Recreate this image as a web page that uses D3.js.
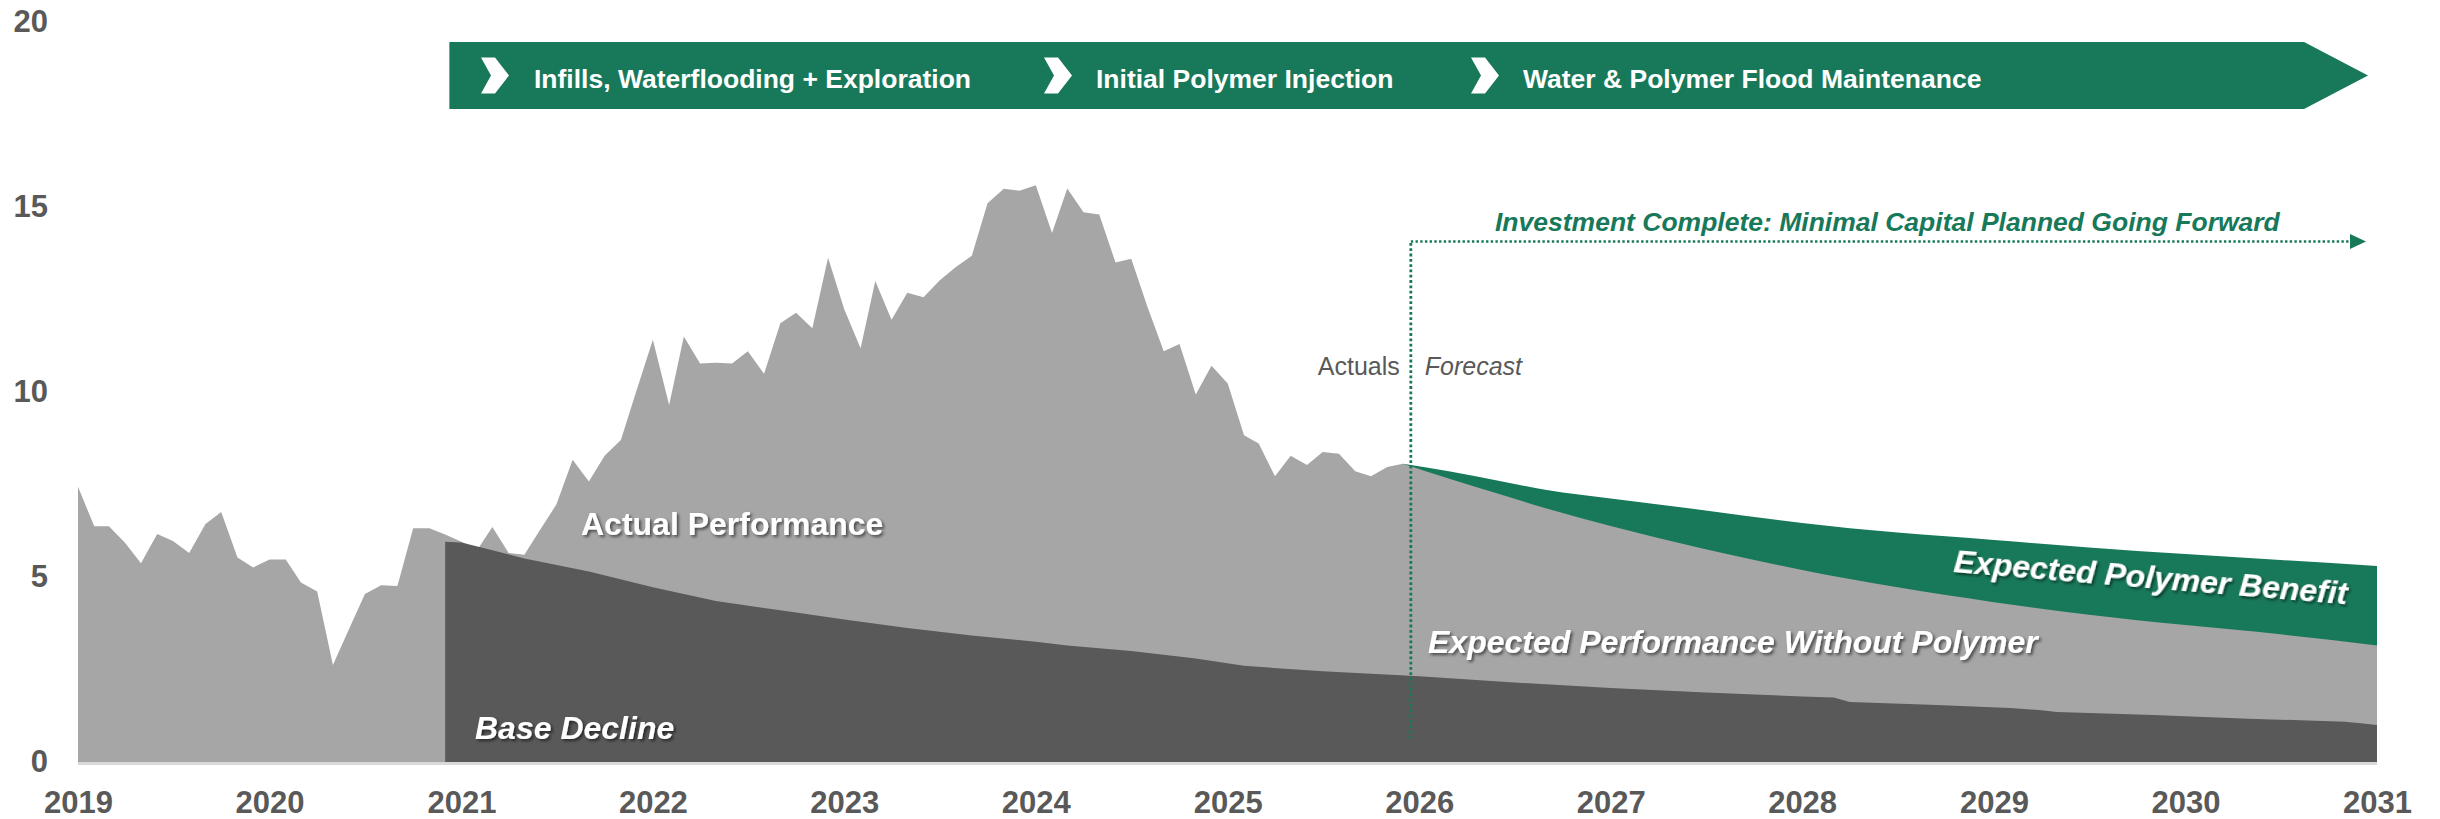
<!DOCTYPE html>
<html>
<head>
<meta charset="utf-8">
<script src="https://cdn.jsdelivr.net/npm/d3@7"></script>
<style>
  html, body { margin: 0; padding: 0; background: #fff; }
  svg { display: block; }
  text { font-family: "Liberation Sans", Arial, sans-serif; }
</style>
</head>
<body>
<svg id="chart" width="2440" height="819"></svg>
<script>
// ---------------- DATA ----------------
const actualStart = "2019-01";   // monthly, Jan 2019 .. Dec 2025
const actualValues = [
  7.44, 6.37, 6.37, 5.92, 5.37, 6.16, 5.97, 5.65, 6.43, 6.76, 5.53, 5.26,
  5.47, 5.47, 4.85, 4.61, 2.62, 3.60, 4.54, 4.78, 4.76, 6.32, 6.32, 6.15,
  5.95, 5.75, 6.35, 5.65, 5.60, 6.30, 6.96, 8.17, 7.58, 8.28, 8.70, 10.05,
  11.41, 9.65, 11.50, 10.77, 10.79, 10.77, 11.10, 10.49, 11.86, 12.14, 11.72, 13.63,
  12.23, 11.18, 13.00, 11.95, 12.68, 12.56, 13.01, 13.37, 13.68, 15.10, 15.49, 15.44,
  15.59, 14.30, 15.50, 14.86, 14.80, 13.50, 13.60, 12.30, 11.10, 11.30, 9.93, 10.71,
  10.23, 8.83, 8.61, 7.72, 8.28, 8.03, 8.38, 8.33, 7.86, 7.72, 7.97, 8.06
];

const baseDates = ["2020-12","2021-01","2021-03","2021-05","2021-09","2022-01","2022-05","2022-09",
  "2023-01","2023-05","2023-09","2024-01","2024-03","2024-07","2024-11","2025-02","2025-07",
  "2026-01","2026-07","2027-01","2027-07","2028-01","2028-03","2028-04","2028-09","2029-02",
  "2029-04","2029-05","2029-11","2030-05","2030-11","2030-12","2031-01"];
const baseValues = [5.95, 5.93, 5.72, 5.50, 5.15, 4.72, 4.35, 4.10,
  3.85, 3.62, 3.42, 3.25, 3.15, 3.00, 2.80, 2.60, 2.45,
  2.32, 2.15, 2.00, 1.88, 1.77, 1.74, 1.62, 1.55, 1.46,
  1.40, 1.35, 1.27, 1.17, 1.09, 1.05, 1.00];

const forecastDates = ["2025-12","2026-03","2026-06","2026-09","2027-01","2027-07","2028-01",
  "2028-07","2029-01","2029-07","2030-01","2030-07","2031-01"];
const withoutPolymer = [8.06, 7.65, 7.25, 6.85, 6.38, 5.75, 5.19, 4.72, 4.32, 3.98, 3.70, 3.45, 3.15];
const withPolymer    = [8.06, 7.85, 7.60, 7.35, 7.12, 6.80, 6.46, 6.20, 6.00, 5.80, 5.62, 5.46, 5.30];

const yTicks = [0, 5, 10, 15, 20];
const yearTicks = ["2019","2020","2021","2022","2023","2024","2025","2026","2027","2028","2029","2030","2031"];

const phases = ["Infills, Waterflooding + Exploration", "Initial Polymer Injection", "Water & Polymer Flood Maintenance"];
const phaseStarts = ["2021-03-01", "2024-02-01", "2026-05-20"];
const dividerDate = "2025-12-16";

// ---------------- SETUP ----------------
const parseM = d3.timeParse("%Y-%m");
const parseD = d3.timeParse("%Y-%m-%d");
const parseY = d3.timeParse("%Y");

const GREEN = "#18795A", GRAY = "#A6A6A6", DARK = "#595959", TXT = "#595959";

const svg = d3.select("#chart");
const x = d3.scaleTime().domain([parseY("2019"), parseY("2031")]).range([78, 2377]);
const y = d3.scaleLinear().domain([0, 20]).range([762, 22]);

const defs = svg.append("defs");
const f = defs.append("filter").attr("id", "shadow").attr("x", "-10%").attr("y", "-30%").attr("width", "120%").attr("height", "160%");
f.append("feDropShadow").attr("dx", 2).attr("dy", 2).attr("stdDeviation", 1.5)
  .attr("flood-color", "#000").attr("flood-opacity", 0.55);

const s0 = parseM(actualStart);
const actual = actualValues.map((v, i) => ({ d: d3.timeMonth.offset(s0, i), v }));
const base = baseDates.map((d, i) => ({ d: parseM(d), v: baseValues[i] }));
const fcNo = forecastDates.map((d, i) => ({ d: parseM(d), v: withoutPolymer[i] }));
const fcYes = forecastDates.map((d, i) => ({ d: parseM(d), v: withPolymer[i] }));

const area = (curve) => d3.area().x(p => x(p.d)).y0(y(0)).y1(p => y(p.v)).curve(curve);

// ---------------- AREAS ----------------
svg.append("path").datum(actual).attr("d", area(d3.curveLinear)).attr("fill", GRAY);
svg.append("path").datum(fcYes).attr("d", area(d3.curveMonotoneX)).attr("fill", GREEN);
svg.append("path").datum(fcNo).attr("d", area(d3.curveMonotoneX)).attr("fill", GRAY);
svg.append("path").datum(base).attr("d", area(d3.curveLinear)).attr("fill", DARK);

// baseline axis line
svg.append("line").attr("x1", x(parseY("2019"))).attr("x2", x(parseY("2031")))
  .attr("y1", y(0) + 1.5).attr("y2", y(0) + 1.5).attr("stroke", "#D9D9D9").attr("stroke-width", 3);

// ---------------- AXES ----------------
const yAxis = svg.append("g").attr("transform", "translate(48,0)")
  .call(d3.axisLeft(y).tickValues(yTicks).tickSize(0).tickPadding(0).tickFormat(d3.format("d")));
yAxis.select(".domain").remove();
yAxis.selectAll("text").attr("fill", TXT).attr("font-size", 31).attr("font-weight", "bold")
  .attr("font-family", "'Liberation Sans', Arial, sans-serif");

const xAxis = svg.append("g").attr("transform", "translate(0,813)")
  .call(d3.axisBottom(x).tickValues(yearTicks.map(parseY)).tickSize(0).tickPadding(0).tickFormat(d3.timeFormat("%Y")));
xAxis.select(".domain").remove();
xAxis.selectAll("text").attr("fill", TXT).attr("font-size", 31).attr("font-weight", "bold")
  .attr("dy", 0).attr("font-family", "'Liberation Sans', Arial, sans-serif");

// ---------------- PHASE BANNER ----------------
const bx0 = x(parseD("2020-12-09")), bx1 = x(parseD("2030-08-15")), btip = 2368;
const by0 = 42, by1 = 109, bym = (by0 + by1) / 2;
svg.append("path")
  .attr("d", `M${bx0},${by0}L${bx1},${by0}L${btip},${bym}L${bx1},${by1}L${bx0},${by1}Z`)
  .attr("fill", GREEN);

const chevXs = [481, 1044, 1471];
const textXs = [534, 1096, 1523];
phases.forEach((p, i) => {
  const cx = chevXs[i], ch = 36, cy = bym - ch / 2;
  svg.append("path")
    .attr("d", `M${cx},${cy}L${cx + 14},${cy}L${cx + 28},${bym}L${cx + 14},${cy + ch}L${cx},${cy + ch}L${cx + 10},${bym}Z`)
    .attr("fill", "#fff");
  svg.append("text").attr("x", textXs[i]).attr("y", 88).attr("fill", "#fff")
    .attr("font-size", 26.5).attr("font-weight", "bold").text(p);
});

// ---------------- INVESTMENT ARROW ----------------
const dx = x(parseD(dividerDate));
svg.append("line").attr("x1", dx).attr("x2", 2352).attr("y1", 241.5).attr("y2", 241.5)
  .attr("stroke", GREEN).attr("stroke-width", 2.6).attr("stroke-dasharray", "2.4,2.3");
svg.append("path").attr("d", "M2350,234L2366,241.5L2350,249Z").attr("fill", GREEN);
svg.append("line").attr("x1", dx).attr("x2", dx).attr("y1", 243).attr("y2", 740)
  .attr("stroke", GREEN).attr("stroke-width", 2.8).attr("stroke-dasharray", "2.8,2.5");

svg.append("text").attr("x", 1495).attr("y", 231).attr("fill", GREEN)
  .attr("font-size", 26.5).attr("font-weight", "bold").attr("font-style", "italic")
  .text("Investment Complete: Minimal Capital Planned Going Forward");

svg.append("text").attr("x", dx - 11).attr("y", 375).attr("fill", TXT).attr("font-size", 25)
  .attr("text-anchor", "end").text("Actuals");
svg.append("text").attr("x", dx + 14).attr("y", 375).attr("fill", TXT).attr("font-size", 25)
  .attr("font-style", "italic").text("Forecast");

// ---------------- SERIES LABELS ----------------
const lab = (tx, ty, t, italic, rot) => svg.append("text")
  .attr("transform", `translate(${tx},${ty}) rotate(${rot || 0})`)
  .attr("fill", "#fff").attr("font-size", 32).attr("font-weight", "bold")
  .attr("font-style", italic ? "italic" : "normal").attr("filter", "url(#shadow)").text(t);

lab(581, 535, "Actual Performance", false);
lab(475, 739, "Base Decline", true);
lab(1428, 653, "Expected Performance Without Polymer", true);
lab(1953, 572, "Expected Polymer Benefit", true, 4.7);
</script>
</body>
</html>
